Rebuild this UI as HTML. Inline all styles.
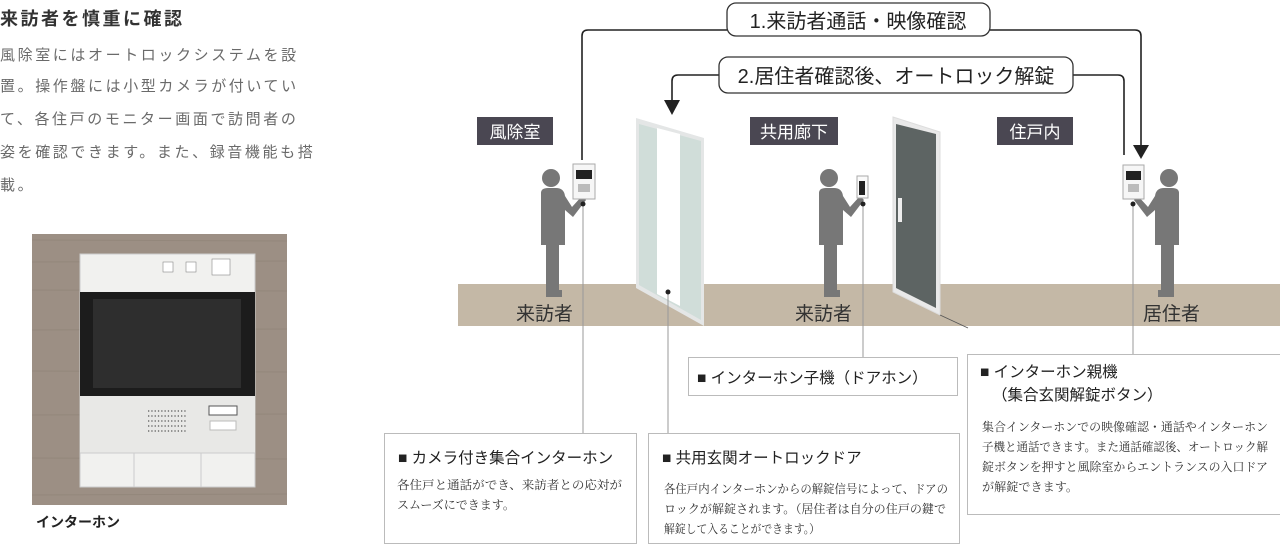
<!DOCTYPE html>
<html><head><meta charset="utf-8"><style>
html,body{margin:0;padding:0;background:#fff;width:1280px;height:546px;overflow:hidden}
svg{display:block}
.s{font-family:"Liberation Sans","Noto Sans CJK JP",sans-serif}
.m{font-family:"Liberation Serif","Noto Serif CJK SC",serif}
</style></head><body>
<svg width="1280" height="546" viewBox="0 0 1280 546" xmlns="http://www.w3.org/2000/svg">
<!-- left text -->
<text x="0" y="25" class="s" font-size="18" font-weight="bold" fill="#333" letter-spacing="2.5">来訪者を慎重に確認</text>
<g class="s" font-size="15" fill="#6a6a6a" letter-spacing="2.6">
<text x="0" y="60">風除室にはオートロックシステムを設</text>
<text x="0" y="91">置。操作盤には小型カメラが付いてい</text>
<text x="0" y="124">て、各住戸のモニター画面で訪問者の</text>
<text x="0" y="157">姿を確認できます。また、録音機能も搭</text>
<text x="0" y="190">載。</text>
</g>
<!-- photo -->
<rect x="32" y="234" width="255" height="271" fill="#9c8f84"/>
<g stroke="#8e8276" stroke-width="1" opacity="0.6">
<line x1="32" y1="240" x2="287" y2="241"/><line x1="32" y1="262" x2="287" y2="261"/><line x1="32" y1="290" x2="287" y2="291"/><line x1="32" y1="330" x2="287" y2="329"/><line x1="32" y1="371" x2="287" y2="372"/><line x1="32" y1="415" x2="287" y2="414"/><line x1="32" y1="458" x2="287" y2="459"/><line x1="32" y1="495" x2="287" y2="494"/>
</g>
<rect x="80" y="254" width="175" height="233" fill="#f1f1ef" stroke="#ccc"/>
<rect x="80" y="292" width="175" height="104" fill="#1c1c1c"/>
<rect x="93" y="299" width="148" height="89" fill="#2e2e2e"/>
<rect x="80" y="396" width="175" height="57" fill="#e8e8e6"/>
<rect x="163" y="262" width="10" height="10" fill="#fff" stroke="#888" stroke-width="0.6"/>
<rect x="186" y="262" width="10" height="10" fill="#fff" stroke="#888" stroke-width="0.6"/>
<rect x="212" y="259" width="18" height="16" fill="#fff" stroke="#888" stroke-width="0.6"/>
<rect x="209" y="406" width="28" height="9" fill="#fff" stroke="#555"/>
<rect x="210" y="421" width="26" height="9" fill="#fff" stroke="#bbb"/>
<g stroke="#555" stroke-width="1.3" stroke-dasharray="1.3 2"><line x1="148" y1="411" x2="186" y2="411"/><line x1="148" y1="416" x2="186" y2="416"/><line x1="148" y1="421" x2="186" y2="421"/><line x1="148" y1="426" x2="186" y2="426"/><line x1="148" y1="431" x2="186" y2="431"/></g>
<line x1="80" y1="453" x2="255" y2="453" stroke="#ccc"/>
<line x1="134" y1="453" x2="134" y2="487" stroke="#ccc"/><line x1="201" y1="453" x2="201" y2="487" stroke="#ccc"/>
<text x="36" y="527" class="s" font-size="14" font-weight="bold" fill="#222">インターホン</text>

<!-- ground -->
<rect x="458" y="284" width="822" height="42" fill="#c4b8a6"/>

<!-- connectors -->
<g fill="none" stroke="#222" stroke-width="1.6">
<path d="M582 160 V36 Q582 30 588 30 H727"/>
<path d="M990 30 H1135 Q1141 30 1141 36 V145"/>
<path d="M719 75 H678 Q672 75 672 81 V100"/>
<path d="M1073 75 H1118 Q1124 75 1124 81 V155"/>
</g>
<polygon points="664,100 680,100 672,115" fill="#222"/>
<polygon points="1133,145 1149,145 1141,159" fill="#222"/>
<rect x="727" y="3" width="263" height="33" rx="9" fill="#fff" stroke="#333" stroke-width="1.3"/>
<text x="858" y="28" text-anchor="middle" class="s" font-size="20" fill="#222">1.来訪者通話・映像確認</text>
<rect x="719" y="57" width="354" height="36" rx="9" fill="#fff" stroke="#333" stroke-width="1.3"/>
<text x="896" y="83" text-anchor="middle" class="s" font-size="20" fill="#222">2.居住者確認後、オートロック解錠</text>

<!-- room labels -->
<rect x="477" y="117" width="76" height="28" fill="#4a4752"/>
<text x="515" y="138" text-anchor="middle" class="s" font-size="17" fill="#fff">風除室</text>
<rect x="750" y="117" width="88" height="28" fill="#4a4752"/>
<text x="794" y="138" text-anchor="middle" class="s" font-size="17" fill="#fff">共用廊下</text>
<rect x="997" y="117" width="76" height="28" fill="#4a4752"/>
<text x="1035" y="138" text-anchor="middle" class="s" font-size="17" fill="#fff">住戸内</text>

<!-- glass door -->
<polygon points="636,118 704,138 704,326 636,288" fill="#e4e6e6"/>
<polygon points="639,124 701,141 701,320 639,285" fill="#d0ddd9"/>
<polygon points="657,128 680,134 680,306 657,294" fill="#fff"/>
<!-- dark door -->
<polygon points="893,117 940,132 940,315 893,292" fill="#e9e9e9" stroke="#ddd"/>
<polygon points="896,124 936,134 936,308 896,288" fill="#5d6463"/>
<rect x="898" y="198" width="4" height="24" fill="#eee"/>
<line x1="940" y1="315" x2="968" y2="328" stroke="#555" stroke-width="0.8"/>

<!-- figures -->
<g fill="#777">
<circle cx="551" cy="178" r="9"/>
<path d="M541 193 Q541 188 548 188 H556 Q564 188 565 196 L572 207 L582 196 L586 200 L573 217 L565 210 V245 H541 Z"/>
<rect x="546" y="244" width="13" height="48"/><path d="M546 290 H562 V297 H546Z"/>
<circle cx="829" cy="178" r="9"/>
<path d="M819 193 Q819 188 826 188 H834 Q842 188 843 196 L850 207 L860 196 L864 200 L851 217 L843 210 V245 H819 Z"/>
<rect x="824" y="244" width="13" height="48"/><path d="M824 290 H840 V297 H824Z"/>
<circle cx="1169" cy="178" r="9"/>
<path d="M1179 193 Q1179 188 1172 188 H1164 Q1156 188 1155 196 L1148 207 L1138 196 L1134 200 L1147 217 L1155 210 V245 H1179 Z"/>
<rect x="1161" y="244" width="13" height="48"/><path d="M1158 290 H1174 V297 H1158Z"/>
</g>
<!-- panels -->
<rect x="573" y="164" width="22" height="35" fill="#f6f6f6" stroke="#aaa"/>
<rect x="576" y="170" width="16" height="9" fill="#222"/>
<rect x="578" y="184" width="12" height="8" fill="#bbb"/>
<rect x="857" y="176" width="11" height="22" fill="#fafafa" stroke="#aaa"/>
<rect x="859" y="181" width="6" height="14" fill="#222"/>
<rect x="1123" y="165" width="21" height="34" fill="#f6f6f6" stroke="#aaa"/>
<rect x="1126" y="171" width="15" height="9" fill="#222"/>
<rect x="1128" y="184" width="11" height="8" fill="#bbb"/>

<!-- ground labels -->
<g class="s" font-size="19" fill="#333">
<text x="516" y="320">来訪者</text>
<text x="795" y="320">来訪者</text>
<text x="1143" y="320">居住者</text>
</g>

<!-- leader lines -->
<g stroke="#999" stroke-width="1">
<line x1="583" y1="204" x2="583" y2="433"/>
<line x1="668" y1="292" x2="668" y2="433"/>
<line x1="863" y1="204" x2="863" y2="357"/>
<line x1="1133" y1="204" x2="1133" y2="354"/>
</g>
<g fill="#222"><circle cx="583" cy="204" r="2.5"/><circle cx="668" cy="292" r="2.5"/><circle cx="863" cy="204" r="2.5"/><circle cx="1133" cy="204" r="2.5"/></g>

<!-- callout boxes -->
<g fill="#fff" stroke="#bbb" stroke-width="1">
<rect x="384.5" y="433.5" width="252" height="110"/>
<rect x="648.5" y="433.5" width="311" height="110"/>
<rect x="688.5" y="357.5" width="269" height="38"/>
<rect x="967.5" y="354.5" width="320" height="160"/>
</g>
<g class="s" font-size="15.5" fill="#222">
<text x="398" y="463">■ カメラ付き集合インターホン</text>
<text x="662" y="463">■ 共用玄関オートロックドア</text>
<text x="697" y="383">■ インターホン子機（ドアホン）</text>
<text x="980" y="377">■ インターホン親機</text>
<text x="992" y="400">（集合玄関解錠ボタン）</text>
</g>
<g class="m" font-size="12" fill="#333">
<text x="397" y="489" textLength="225" lengthAdjust="spacingAndGlyphs">各住戸と通話ができ、来訪者との応対が</text>
<text x="397" y="509">スムーズにできます。</text>
<text x="664" y="493" textLength="284" lengthAdjust="spacingAndGlyphs">各住戸内インターホンからの解錠信号によって、ドアの</text>
<text x="664" y="513" textLength="282" lengthAdjust="spacingAndGlyphs">ロックが解錠されます。（居住者は自分の住戸の鍵で</text>
<text x="664" y="533" textLength="156" lengthAdjust="spacingAndGlyphs">解錠して入ることができます。）</text>
<text x="982" y="431" textLength="286" lengthAdjust="spacingAndGlyphs">集合インターホンでの映像確認・通話やインターホン</text>
<text x="982" y="451" textLength="286" lengthAdjust="spacingAndGlyphs">子機と通話できます。また通話確認後、オートロック解</text>
<text x="982" y="471" textLength="286" lengthAdjust="spacingAndGlyphs">錠ボタンを押すと風除室からエントランスの入口ドア</text>
<text x="982" y="491" textLength="96" lengthAdjust="spacingAndGlyphs">が解錠できます。</text>
</g>
</svg>
</body></html>
